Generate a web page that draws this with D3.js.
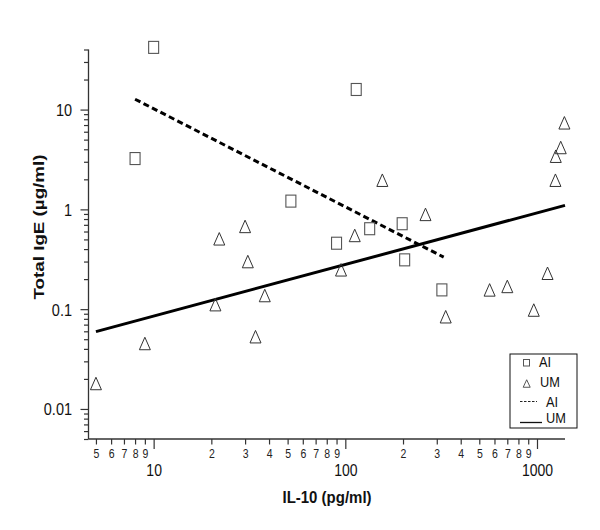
<!DOCTYPE html>
<html><head><meta charset="utf-8">
<script src="https://cdn.jsdelivr.net/npm/d3@7/dist/d3.min.js"></script>
<style>body{margin:0;background:#fff}svg{display:block}</style>
</head><body><svg id="c" width="600" height="530"></svg>
<script>
// ---- data ----
const aiX = [10, 8.0, 52, 114, 90, 134, 198, 204, 319];
const aiY = [42, 3.23, 1.21, 15.9, 0.458, 0.64, 0.718, 0.312, 0.156];
const umX = [1390, 1330, 1253, 1248, 156, 262, 112, 95, 1135, 566, 700, 962, 334, 30, 22, 31, 38, 21, 34, 9.0, 5.0];
const umY = [7.37, 4.17, 3.41, 1.96, 1.96, 0.891, 0.548, 0.248, 0.229, 0.156, 0.169, 0.098, 0.084, 0.675, 0.507, 0.30, 0.137, 0.111, 0.053, 0.0453, 0.018];
const aiFitX = [8.0, 326];
const aiFitY = [12.7, 0.332];
const umFitX = [5.0, 1400];
const umFitY = [0.0596, 1.097];
const xMajorTicks = [10, 100, 1000];
const xMinorTicks = [5,6,7,8,9,20,30,40,50,60,70,80,90,200,300,400,500,600,700,800,900];
const yMajorTicks = [0.01, 0.1, 1, 10];
const yMajorLabels = ["0.01", "0.1", "1", "10"];
const yMinorTicks = [0.005,0.006,0.007,0.008,0.009,0.02,0.03,0.04,0.05,0.06,0.07,0.08,0.09,
  0.2,0.3,0.4,0.5,0.6,0.7,0.8,0.9,2,3,4,5,6,7,8,9,20,30,40];
const xTitle = "IL-10 (pg/ml)";
const yTitle = "Total IgE (\u00b5g/ml)";
const legendLabels = ["AI", "UM", "AI", "UM"];

// ---- chart ----
const FONT = "'Liberation Sans', Arial, Helvetica, sans-serif";
const SY = 1.2; // glyphs in the reference are vertically stretched
const svg = d3.select("#c");
const x = d3.scaleLog().domain([4.6, 1400]).range([89, 565]);
const y = d3.scaleLog().domain([0.005, 40]).range([439, 49.5]);
const axisY0 = 439, axisX0 = 88.5;

// x axis minor
const gxMin = svg.append("g").attr("transform", `translate(0,${axisY0})`)
  .call(d3.axisBottom(x).tickValues(xMinorTicks).tickSize(5.5)
    .tickFormat(d => String(d).charAt(0)));
gxMin.select(".domain").remove();
gxMin.selectAll("text").attr("y", 0).attr("dy", 0)
  .attr("transform", `translate(0,19.3) scale(1,${SY})`)
  .attr("font-size", 10.5).attr("font-family", FONT).attr("fill", "#222");
// x axis major
const gxMaj = svg.append("g").attr("transform", `translate(0,${axisY0})`)
  .call(d3.axisBottom(x).tickValues(xMajorTicks).tickSize(10)
    .tickFormat(d3.format("d")));
gxMaj.select(".domain").remove();
gxMaj.selectAll("text").attr("y", 0).attr("dy", 0)
  .attr("transform", `translate(0,36.8) scale(1,${SY})`)
  .attr("font-size", 14).attr("font-family", FONT).attr("fill", "#111");

// y axis minor
const gyMin = svg.append("g").attr("transform", `translate(${axisX0},0)`)
  .call(d3.axisLeft(y).tickValues(yMinorTicks).tickSize(4.5).tickFormat(""));
gyMin.select(".domain").remove();
// y axis major
const gyMaj = svg.append("g").attr("transform", `translate(${axisX0},0)`)
  .call(d3.axisLeft(y).tickValues(yMajorTicks).tickSize(8)
    .tickFormat((d, i) => yMajorLabels[i]));
gyMaj.select(".domain").remove();
gyMaj.selectAll("text").attr("x", 0).attr("y", 0).attr("dy", 0)
  .attr("transform", `translate(-16.5,6) scale(1,${SY})`)
  .attr("font-size", 14.5).attr("font-family", FONT).attr("fill", "#111");

svg.selectAll(".tick line").attr("stroke", "#333").attr("stroke-width", 1.2);

// axis lines
svg.append("line").attr("x1", axisX0).attr("x2", axisX0).attr("y1", y(40)).attr("y2", axisY0)
  .attr("stroke", "#333").attr("stroke-width", 1.3);
svg.append("line").attr("x1", axisX0).attr("x2", x(1400)).attr("y1", axisY0).attr("y2", axisY0)
  .attr("stroke", "#333").attr("stroke-width", 1.3);

// titles
svg.append("text")
  .attr("transform", `translate(${(x.range()[0] + x.range()[1]) / 2},503) scale(1,1.1)`)
  .attr("text-anchor", "middle").attr("font-family", FONT).attr("font-weight", "bold")
  .attr("font-size", 15).attr("fill", "#111").text(xTitle);
svg.append("text").attr("transform", "translate(44,227) rotate(-90)")
  .attr("text-anchor", "middle").attr("font-family", FONT).attr("font-weight", "bold")
  .attr("font-size", 15).attr("fill", "#111")
  .attr("textLength", 145).attr("lengthAdjust", "spacingAndGlyphs").text(yTitle);

// fit lines
const line = d3.line().x(d => x(d[0])).y(d => y(d[1]));
svg.append("path").datum(aiFitX.map((v, i) => [v, aiFitY[i]])).attr("d", line)
  .attr("fill", "none").attr("stroke", "#000").attr("stroke-width", 3).attr("stroke-dasharray", "6,3.5");
svg.append("path").datum(umFitX.map((v, i) => [v, umFitY[i]])).attr("d", line)
  .attr("fill", "none").attr("stroke", "#000").attr("stroke-width", 3);

// markers
const tri = (w, h) => `M0,${-h/2}L${w/2},${h/2}L${-w/2},${h/2}Z`;
svg.append("g").selectAll("rect").data(aiX.map((v, i) => [v, aiY[i]])).join("rect")
  .attr("x", d => x(d[0]) - 5).attr("y", d => y(d[1]) - 6).attr("width", 10).attr("height", 12)
  .attr("fill", "none").attr("stroke", "#555").attr("stroke-width", 1.1);
svg.append("g").selectAll("path").data(umX.map((v, i) => [v, umY[i]])).join("path")
  .attr("transform", d => `translate(${x(d[0])},${y(d[1])})`).attr("d", tri(11, 12.5))
  .attr("fill", "none").attr("stroke", "#333").attr("stroke-width", 1);

// legend
const lg = svg.append("g");
lg.append("rect").attr("x", 510).attr("y", 354).attr("width", 67).attr("height", 74)
  .attr("fill", "#fff").attr("stroke", "#111").attr("stroke-width", 1);
const rows = [362, 381.5, 401.5, 418];
lg.append("rect").attr("x", 523.5).attr("y", rows[0] - 2.5).attr("width", 6).attr("height", 6.5)
  .attr("fill", "none").attr("stroke", "#555").attr("stroke-width", 1);
lg.append("path").attr("transform", `translate(526.7,${rows[1] + 2})`).attr("d", tri(7, 7.5))
  .attr("fill", "none").attr("stroke", "#444").attr("stroke-width", 0.9);
lg.append("line").attr("x1", 520).attr("x2", 537).attr("y1", rows[2]).attr("y2", rows[2])
  .attr("stroke", "#222").attr("stroke-width", 1).attr("stroke-dasharray", "2.5,1.5");
lg.append("line").attr("x1", 520).attr("x2", 542).attr("y1", rows[3] + 4.5).attr("y2", rows[3] + 4.5)
  .attr("stroke", "#111").attr("stroke-width", 1.3);
const tx = [539, 540, 546, 546];
lg.selectAll("text.lt").data(legendLabels).join("text").attr("class", "lt")
  .attr("transform", (d, i) => `translate(${tx[i]},${rows[i] + 5.4}) scale(1,${SY})`)
  .attr("font-family", FONT).attr("font-size", 12.8).attr("fill", "#111").text(d => d);
</script></body></html>
